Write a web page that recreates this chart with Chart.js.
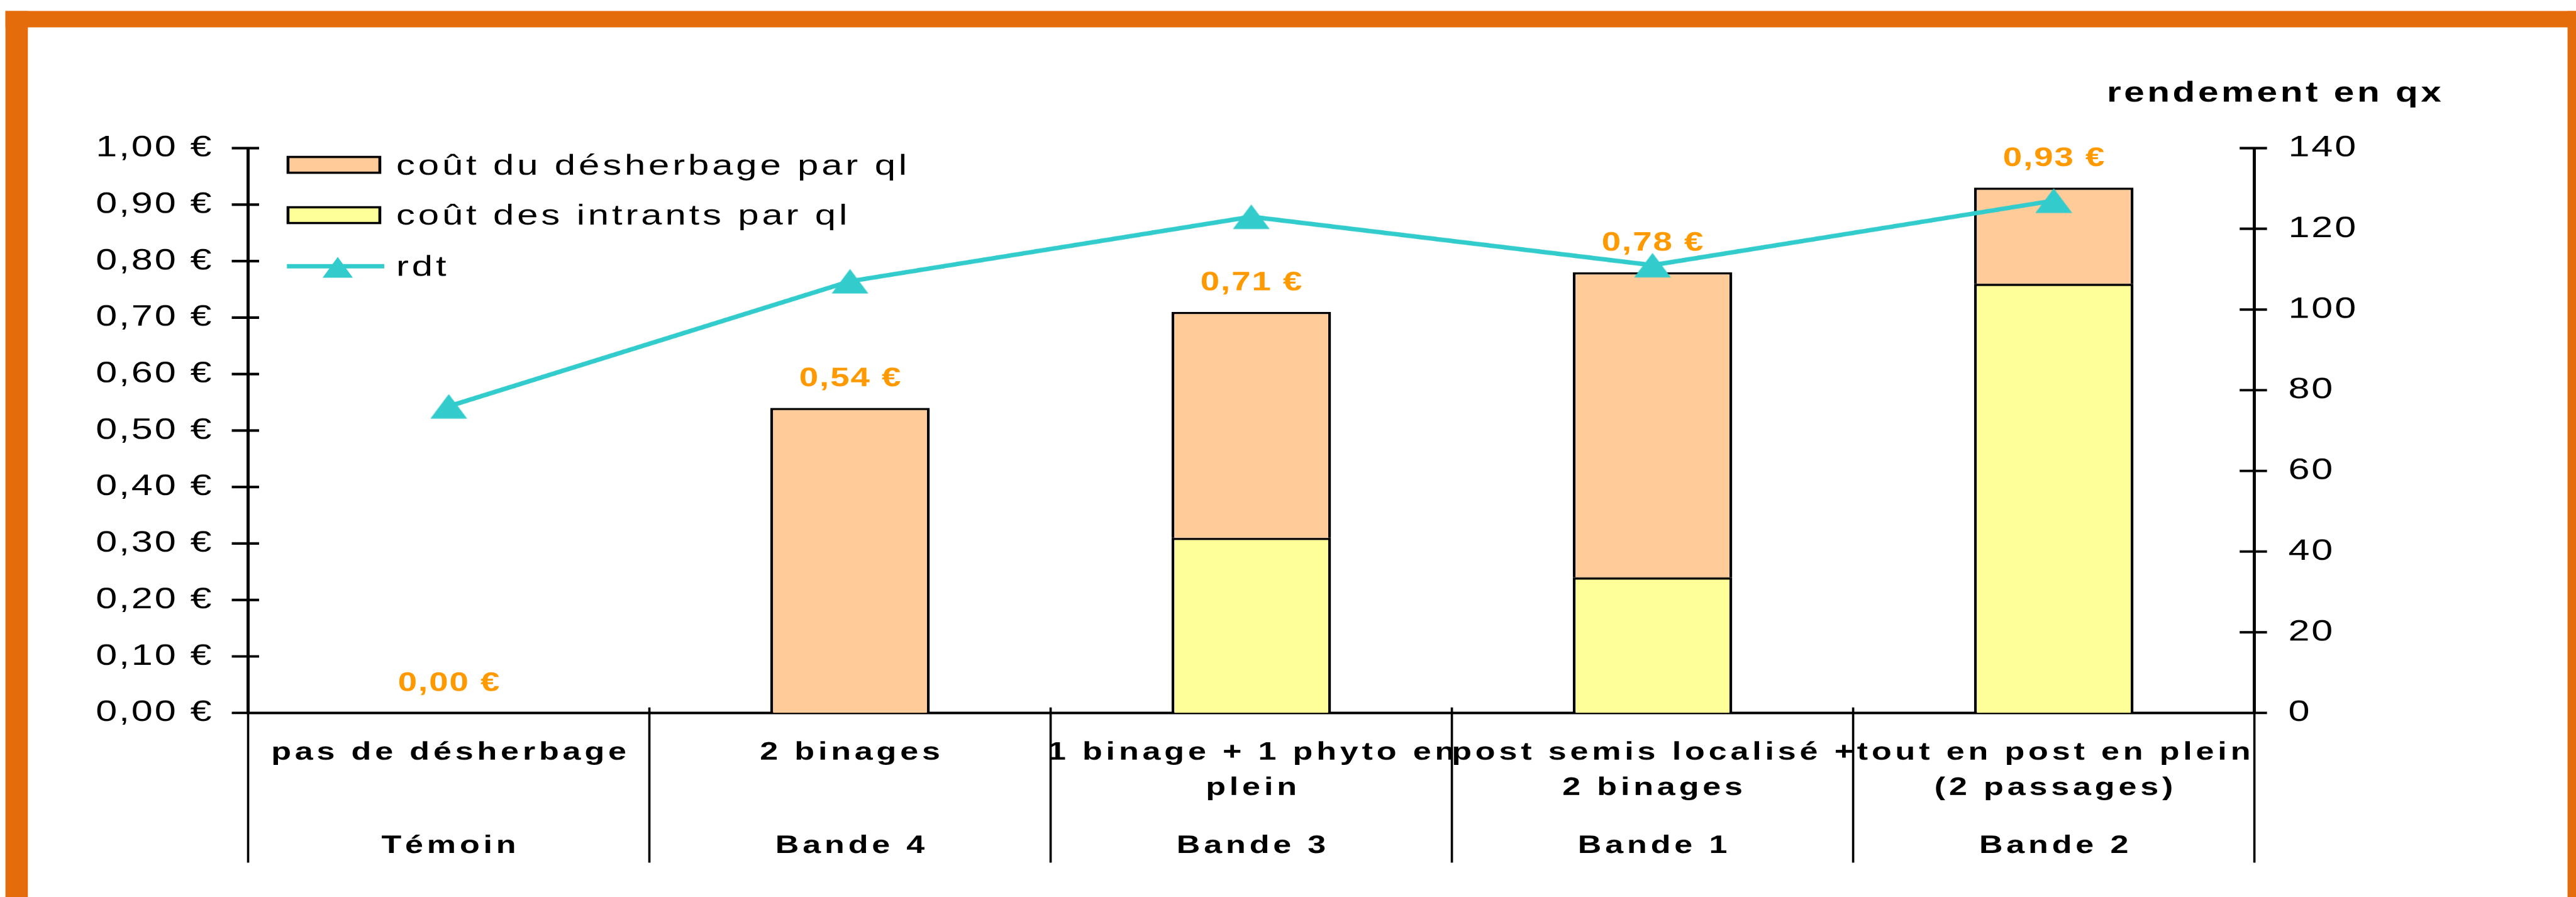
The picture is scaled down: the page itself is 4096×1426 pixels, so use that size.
<!DOCTYPE html>
<html>
<head>
<meta charset="utf-8">
<script src="https://cdn.jsdelivr.net/npm/chart.js@4.4.1/dist/chart.umd.min.js"></script>
<style>
html, body { margin: 0; padding: 0; background: #ffffff; overflow: hidden; width: 4096px; height: 1426px; }
#wrap { position: absolute; left: 0; top: 0; width: 3150px; height: 1426px; transform-origin: 0 0; }
</style>
</head>
<body>
<div id="wrap"><canvas id="c"></canvas></div>
<script>
// ---------------- data ----------------
const categories = [
  'pas de désherbage',
  '2 binages',
  ['1 binage + 1 phyto en', 'plein'],
  ['post semis localisé +', '2 binages'],
  ['tout en post en plein', '(2 passages)']
];
const groups = ['Témoin', 'Bande 4', 'Bande 3', 'Bande 1', 'Bande 2'];
const coutIntrants = [0, 0, 0.31, 0.24, 0.76];
const coutDesherbage = [0, 0.54, 0.40, 0.54, 0.17];
const rdt = [76, 107, 123, 111, 127];
const costTickLabels = ['0,00 €', '0,10 €', '0,20 €', '0,30 €', '0,40 €', '0,50 €', '0,60 €', '0,70 €', '0,80 €', '0,90 €', '1,00 €'];
const yieldTickLabels = ['0', '20', '40', '60', '80', '100', '120', '140'];
const seriesNames = ['coût du désherbage par ql', 'coût des intrants par ql', 'rdt'];
const yieldAxisTitle = 'rendement en qx';

// ---------------- geometry helpers ----------------
const W = 4096, H = 1426, LW = 3150;
const SX = W / LW;              // horizontal stretch applied to the whole canvas
const KX = 0.869 / SX;          // reference px -> logical x
const KY = 0.869;               // reference px -> logical y
const rx = v => v * KX;
const ry = v => v * KY;

const FONT = '"Liberation Sans", Arial, sans-serif';
const ORANGE_BAR = '#FFCC99';
const YELLOW_BAR = '#FFFF99';
const TEAL = '#33CCCC';
const LABEL_ORANGE = '#FF9900';
const FRAME = '#E46C0A';

document.getElementById('wrap').style.transform = 'scaleX(' + SX + ')';

function euro(v) { return v.toFixed(2).replace('.', ',') + ' €'; }

// triangle marker for the rdt series
const tri = document.createElement('canvas');
tri.width = 46; tri.height = 40;
(function () {
  const t = tri.getContext('2d');
  t.fillStyle = TEAL;
  t.beginPath();
  t.moveTo(23, 0.5); t.lineTo(45.5, 39.5); t.lineTo(0.5, 39.5);
  t.closePath(); t.fill();
})();

const deco = {
  id: 'deco',
  beforeDraw(chart) {
    const c = chart.ctx;
    c.save();
    c.fillStyle = '#ffffff';
    c.fillRect(0, 0, LW, H);
    c.fillStyle = FRAME;
    c.fillRect(rx(10), ry(20), rx(41), H);
    c.fillRect(rx(10), ry(20), LW, ry(30));
    c.fillRect(rx(4698), ry(20), LW, H);
    c.restore();
    c.letterSpacing = '2.2px';
  },
  afterDatasetsDraw(chart) {
    const c = chart.ctx, xs = chart.scales.x, ys = chart.scales.y;
    c.save();
    c.font = 'bold 42px ' + FONT;
    c.fillStyle = LABEL_ORANGE;
    c.textAlign = 'center';
    c.textBaseline = 'alphabetic';
    c.letterSpacing = '1.5px';
    for (let i = 0; i < categories.length; i++) {
      const total = coutIntrants[i] + coutDesherbage[i];
      const x = xs.getPixelForValue(i) + 0.75;
      const y = ys.getPixelForValue(total) - ry(40);
      c.fillText(euro(total), x, y);
    }
    c.restore();
  },
  afterDraw(chart) {
    const c = chart.ctx, xs = chart.scales.x, ys = chart.scales.y, y2s = chart.scales.y2;
    const L = chart.chartArea.left, R = chart.chartArea.right;
    c.save();
    c.letterSpacing = '0px';
    c.strokeStyle = '#000';
    // tick marks crossing the value axes
    c.lineWidth = 4;
    ys.ticks.forEach(t => {
      const y = ys.getPixelForValue(t.value);
      c.beginPath(); c.moveTo(L - 20, y); c.lineTo(L + 13.4, y); c.stroke();
    });
    y2s.ticks.forEach(t => {
      const y = y2s.getPixelForValue(t.value);
      c.beginPath(); c.moveTo(R - 18, y); c.lineTo(R + 15.4, y); c.stroke();
    });
    // category separators
    c.lineWidth = 2.8;
    for (let i = 0; i <= categories.length; i++) {
      const x = xs.getPixelForValue(i - 0.5);
      c.beginPath(); c.moveTo(x, ry(1294)); c.lineTo(x, ry(1578)); c.stroke();
    }
    // category labels (two tiers)
    c.fillStyle = '#000';
    c.font = 'bold 40px ' + FONT;
    c.textAlign = 'center';
    c.textBaseline = 'alphabetic';
    c.letterSpacing = '4.5px';
    for (let i = 0; i < categories.length; i++) {
      const x = xs.getPixelForValue(i) + 2.25;
      const lines = Array.isArray(categories[i]) ? categories[i] : [categories[i]];
      lines.forEach((t, j) => c.fillText(t, x, ry(1389) + j * ry(65)));
      c.fillText(groups[i], x, ry(1560));
    }
    // legend
    const boxes = [ORANGE_BAR, YELLOW_BAR];
    const boxTops = [285, 377];
    c.lineWidth = 3.5;
    boxes.forEach((col, k) => {
      c.fillStyle = col;
      c.fillRect(rx(527), ry(boxTops[k] + 2), rx(168), ry(29));
      c.strokeStyle = '#000';
      c.strokeRect(rx(527), ry(boxTops[k] + 2), rx(168), ry(29));
    });
    c.strokeStyle = TEAL;
    c.lineWidth = 7;
    c.beginPath(); c.moveTo(rx(525), ry(487)); c.lineTo(rx(703), ry(487)); c.stroke();
    c.fillStyle = TEAL;
    const tcx = rx(618), tcy = ry(489);
    c.beginPath();
    c.moveTo(tcx, tcy - 16.5); c.lineTo(tcx + 18.5, tcy + 16.5); c.lineTo(tcx - 18.5, tcy + 16.5);
    c.closePath(); c.fill();
    c.fillStyle = '#000';
    c.font = '46px ' + FONT;
    c.textAlign = 'left';
    c.letterSpacing = '3.75px';
    const baselines = [319.5, 411, 504];
    seriesNames.forEach((n, k) => c.fillText(n, rx(725), ry(baselines[k])));
    // right axis title
    c.font = 'bold 45px ' + FONT;
    c.textAlign = 'right';
    c.letterSpacing = '3.5px';
    c.fillText(yieldAxisTitle, rx(4467) + 3.5, ry(186));
    c.restore();
    c.letterSpacing = '0px';
  }
};

new Chart(document.getElementById('c'), {
  type: 'bar',
  data: {
    labels: categories,
    datasets: [
      {
        type: 'line',
        label: seriesNames[2],
        data: rdt,
        yAxisID: 'y2',
        borderColor: TEAL,
        backgroundColor: TEAL,
        borderWidth: 7,
        pointStyle: tri,
        pointRadius: 20,
        pointHoverRadius: 20,
        tension: 0,
        fill: false,
        order: 0
      },
      {
        label: seriesNames[1],
        data: coutIntrants,
        yAxisID: 'y',
        backgroundColor: YELLOW_BAR,
        borderColor: '#000',
        borderWidth: 3.5,
        stack: 's',
        order: 1
      },
      {
        label: seriesNames[0],
        data: coutDesherbage,
        yAxisID: 'y',
        backgroundColor: ORANGE_BAR,
        borderColor: '#000',
        borderWidth: 3.5,
        stack: 's',
        order: 1
      }
    ]
  },
  options: {
    responsive: true,
    maintainAspectRatio: false,
    animation: false,
    devicePixelRatio: SX,
    events: [],
    layout: { padding: { top: ry(271), left: 0, right: 0, bottom: 0 } },
    datasets: { bar: { barPercentage: 0.3975, categoryPercentage: 1 } },
    plugins: { legend: { display: false }, tooltip: { enabled: false }, title: { display: false } },
    scales: {
      x: {
        stacked: true,
        offset: true,
        grid: { display: false, drawTicks: false },
        ticks: { display: false },
        border: { display: true, color: '#000', width: 4 },
        afterFit(s) { s.height = H - ry(1304); }
      },
      y: {
        position: 'left',
        stacked: true,
        min: 0, max: 1,
        grid: { display: false, drawTicks: false },
        border: { display: true, color: '#000', width: 3.8 },
        ticks: {
          stepSize: 0.1, autoSkip: false, color: '#000', padding: 42.5,
          font: { family: FONT, size: 47 },
          callback: v => costTickLabels[Math.round(v * 10)]
        },
        afterFit(s) { s.width = rx(454); }
      },
      y2: {
        position: 'right',
        min: 0, max: 140,
        grid: { display: false, drawTicks: false },
        border: { display: true, color: '#000', width: 3.8 },
        ticks: {
          stepSize: 20, autoSkip: false, color: '#000', padding: 41.4,
          font: { family: FONT, size: 47 },
          callback: v => yieldTickLabels[Math.round(v / 20)]
        },
        afterFit(s) { s.width = LW - rx(4125); }
      }
    }
  },
  plugins: [deco]
});
</script>
</body>
</html>
